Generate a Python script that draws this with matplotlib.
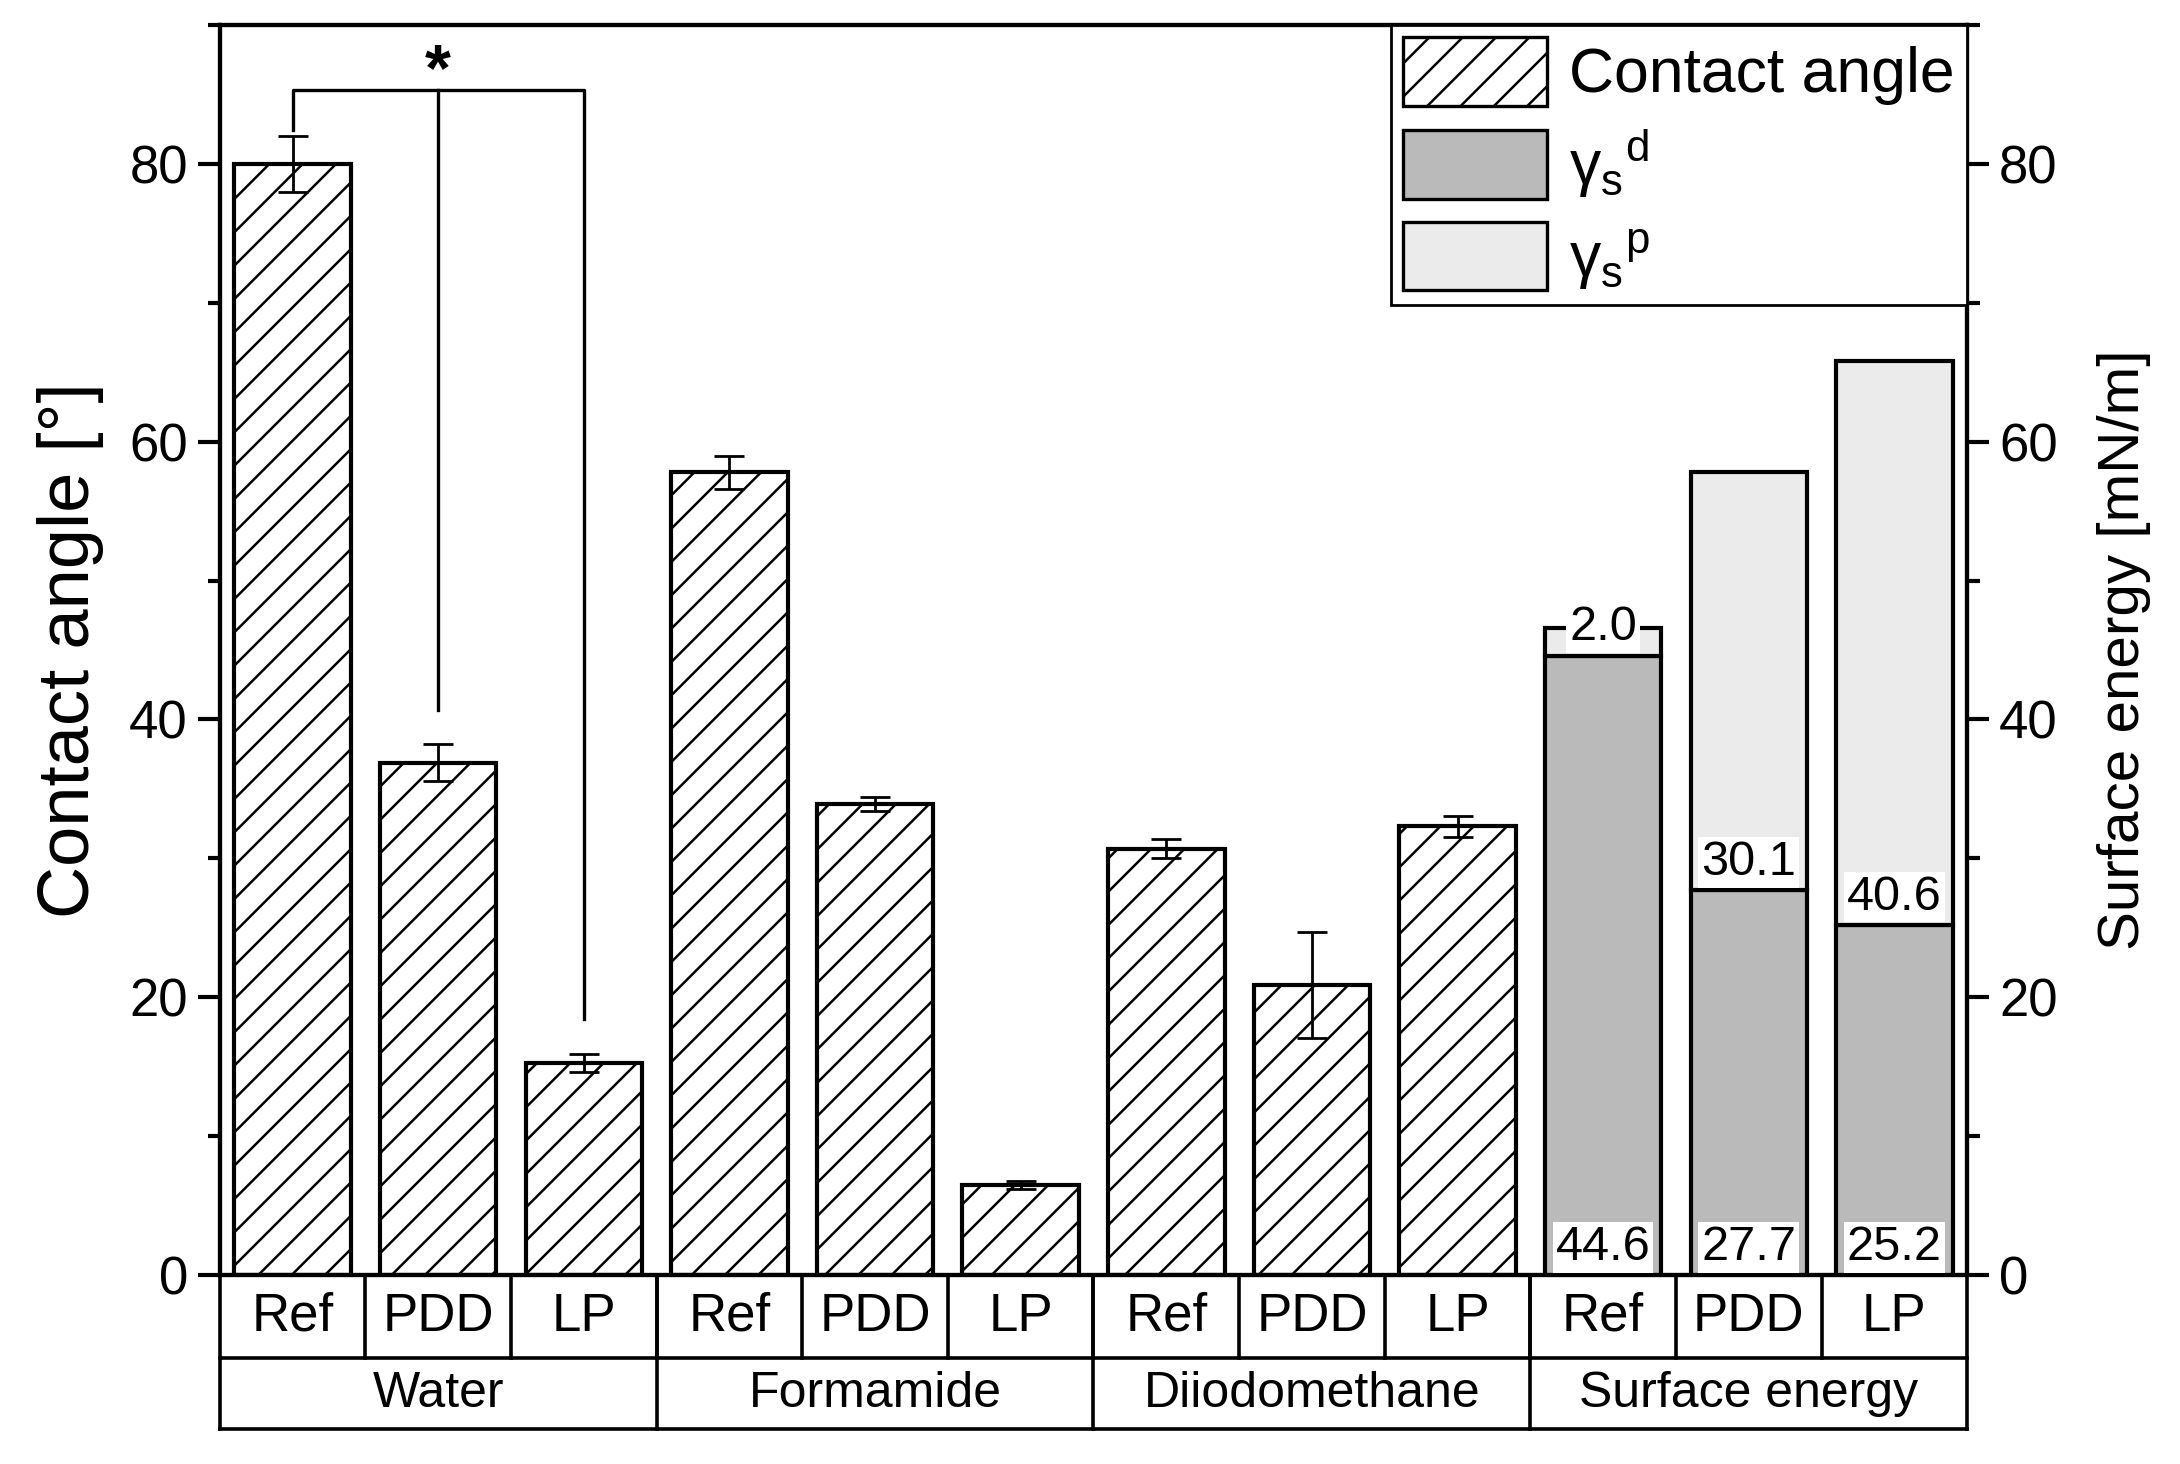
import numpy as np
import matplotlib.pyplot as plt
from matplotlib.patches import Patch
from matplotlib.ticker import MultipleLocator

plt.rcParams['font.family'] = ['Liberation Sans', 'DejaVu Sans']
plt.rcParams['mathtext.fontset'] = 'custom'
plt.rcParams['mathtext.rm'] = 'Liberation Sans'
plt.rcParams['hatch.linewidth'] = 0.9

# --- datos ---
samples = ['Ref', 'PDD', 'LP']
groups = ['Water', 'Formamide', 'Diiodomethane', 'Surface energy']
contact_angle = [80.0, 36.9, 15.3, 57.8, 33.9, 6.5, 30.7, 20.9, 32.3]
contact_err = [2.0, 1.3, 0.65, 1.2, 0.5, 0.3, 0.7, 3.8, 0.75]
gamma_d = [44.6, 27.7, 25.2]
gamma_p = [2.0, 30.1, 40.6]
sig_label = '*'

C_DISP = '#bababa'
C_POL = '#ebebeb'
LW = 1.5

fig = plt.figure(figsize=(10.9, 7.32), dpi=200)
left, width = 0.1008, 0.8016
ax = fig.add_axes([left, 0.129, width, 0.854])
ax2 = ax.twinx()

n_ca = len(contact_angle)
x_ca = np.arange(n_ca)
x_se = np.arange(n_ca, n_ca + len(gamma_d))
bw = 0.8

ax.bar(x_ca, contact_angle, bw, color='white', edgecolor='black',
       hatch='//', linewidth=LW, zorder=2)
ax.errorbar(x_ca, contact_angle, yerr=contact_err, fmt='none', ecolor='black',
            elinewidth=1.0, capsize=5.5, capthick=1.0, zorder=3)

ax2.bar(x_se, gamma_d, bw, color=C_DISP, edgecolor='black', linewidth=LW, zorder=2)
ax2.bar(x_se, gamma_p, bw, bottom=gamma_d, color=C_POL, edgecolor='black',
        linewidth=LW, zorder=2)

box = dict(boxstyle='square,pad=0.06', facecolor='white', edgecolor='none')
for xi, d, p in zip(x_se, gamma_d, gamma_p):
    ax2.text(xi, 0.4, f'{d:.1f}', ha='center', va='bottom', fontsize=17.5,
             bbox=box, zorder=4)
    ax2.text(xi, d + 0.4, f'{p:.1f}', ha='center', va='bottom', fontsize=17.5,
             bbox=box, zorder=4)

# --- corchete de significancia (Water) ---
top_y = 85.3
leg_gap = [0.4, 2.5, 2.5]
legs = [contact_angle[i] + contact_err[i] + g for i, g in zip(range(3), leg_gap)]
ax.plot([x_ca[0], x_ca[0], x_ca[2], x_ca[2]], [legs[0], top_y, top_y, legs[2]],
        color='black', lw=1.2, zorder=3)
ax.plot([x_ca[1], x_ca[1]], [legs[1], top_y], color='black', lw=1.2, zorder=3)
ax.text(x_ca[1], top_y + 1.2, sig_label, ha='center', va='center',
        fontsize=24, fontweight='bold')

# --- ejes ---
for a in (ax, ax2):
    a.set_ylim(0, 90)
    a.set_xlim(-0.5, n_ca + len(gamma_d) - 0.5)
    a.yaxis.set_major_locator(MultipleLocator(20))
    a.yaxis.set_minor_locator(MultipleLocator(10))
    a.tick_params(axis='y', which='major', direction='out', length=8,
                  width=LW, labelsize=19)
    a.tick_params(axis='y', which='minor', direction='out', length=4.5, width=LW)
    for s in a.spines.values():
        s.set_linewidth(LW)
ax.set_xticks([])
ax2.set_xticks([])
ax.set_ylabel('Contact angle [°]', fontsize=26, labelpad=9)
ax2.set_ylabel('Surface energy [mN/m]', fontsize=21, labelpad=14)

handles = [Patch(facecolor='white', edgecolor='black', hatch='//', lw=1.2),
           Patch(facecolor=C_DISP, edgecolor='black', lw=1.2),
           Patch(facecolor=C_POL, edgecolor='black', lw=1.2)]
labels = ['Contact angle', 'γ$_\\mathregular{s}$$^\\mathregular{d}$',
          'γ$_\\mathregular{s}$$^\\mathregular{p}$']
leg = ax2.legend(handles, labels, loc='upper right', bbox_to_anchor=(1, 1),
                 borderaxespad=0, fontsize=22.5, fancybox=False, framealpha=1,
                 edgecolor='black', handlelength=2.3, handleheight=1.3,
                 handletextpad=0.35, labelspacing=0.35, borderpad=0.2)
leg.get_frame().set_linewidth(1.0)

# --- tabla de categorias bajo el eje ---
tab = fig.add_axes([left, 0.0237, width, 0.1053])
tab.set_xlim(-0.5, n_ca + len(gamma_d) - 0.5)
tab.set_ylim(0, 1)
tab.axis('off')
mid = 0.46
tlw = 1.3
n_all = n_ca + len(gamma_d)
for xb in np.arange(-0.5, n_all, 3):
    tab.plot([xb, xb], [0, 1], color='black', lw=tlw, clip_on=False)
for xb in np.arange(0.5, n_all - 1, 1):
    tab.plot([xb, xb], [mid, 1], color='black', lw=tlw, clip_on=False)
tab.plot([-0.5, n_all - 0.5], [mid, mid], color='black', lw=tlw, clip_on=False)
tab.plot([-0.5, n_all - 0.5], [0, 0], color='black', lw=tlw, clip_on=False)
for i in range(n_all):
    tab.text(i, (mid + 1) / 2, samples[i % 3], ha='center', va='center', fontsize=19)
for g, name in enumerate(groups):
    tab.text(3 * g + 1, mid / 2, name, ha='center', va='center', fontsize=18)

fig.savefig('out.png', dpi=200)
